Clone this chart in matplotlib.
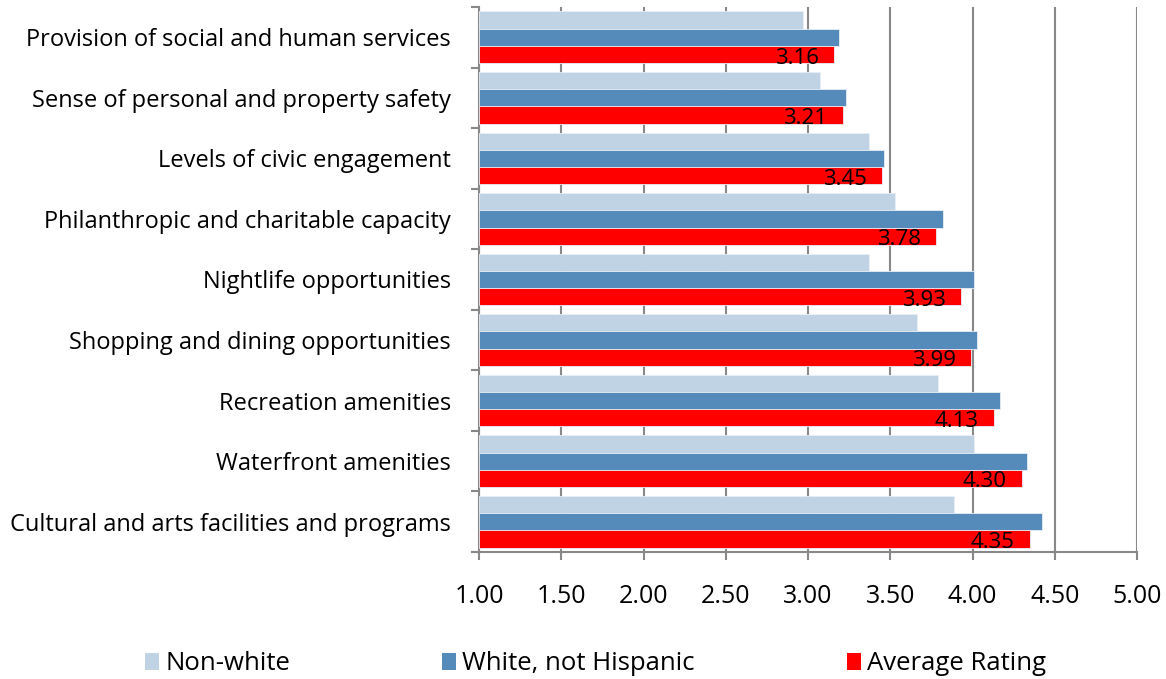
import matplotlib
matplotlib.use("Agg")
import matplotlib.pyplot as plt
import numpy as np
from matplotlib.patches import Patch

plt.rcParams['font.family'] = ['Open Sans', 'DejaVu Sans']

categories = [
    "Provision of social and human services",
    "Sense of personal and property safety",
    "Levels of civic engagement",
    "Philanthropic and charitable capacity",
    "Nightlife opportunities",
    "Shopping and dining opportunities",
    "Recreation amenities",
    "Waterfront amenities",
    "Cultural and arts facilities and programs",
]
non_white = [2.97, 3.07, 3.37, 3.53, 3.37, 3.66, 3.79, 4.01, 3.89]
white_not_hispanic = [3.19, 3.23, 3.46, 3.82, 4.01, 4.03, 4.17, 4.33, 4.42]
average_rating = [3.16, 3.21, 3.45, 3.78, 3.93, 3.99, 4.13, 4.30, 4.35]
series_names = ["Non-white", "White, not Hispanic", "Average Rating"]
colors = ["#C0D3E4", "#558BBA", "#FF0000"]
xticks = [1.0, 1.5, 2.0, 2.5, 3.0, 3.5, 4.0, 4.5, 5.0]

fig = plt.figure(figsize=(11.66, 6.79), dpi=100)
ax = fig.add_axes([479 / 1166, 1 - 552 / 679, (1137 - 479) / 1166, (552 - 7) / 679])

n = len(categories)
centers = np.arange(n)  # 0 at top after inversion
h = 0.285
series = [non_white, white_not_hispanic, average_rating]
offsets = [-h, 0, h]
for vals, off, col in zip(series, offsets, colors):
    widths = [v - 1.0 for v in vals]
    ax.barh(centers + off, widths, left=1.0, height=h, color=col,
            edgecolor="#E8EEF5", linewidth=0.6, zorder=3)

for c, v in zip(centers, average_rating):
    ax.annotate(f"{v:.2f}", xy=(v, c + h), xytext=(-11, -2.5),
                textcoords="offset points", ha="right", va="center",
                fontsize=16, color="black", zorder=4)

ax.set_xlim(1.0, 5.0)
ax.set_ylim(n - 0.5, -0.5)
ax.set_xticks(xticks)
ax.set_xticklabels([f"{t:.2f}" for t in xticks], fontsize=18)
ax.set_yticks(centers)
ax.set_yticklabels(categories, fontsize=17)
ax.set_yticks(np.arange(n + 1) - 0.5, minor=True)
ax.tick_params(axis="y", which="major", length=0, pad=20)
ax.tick_params(axis="y", which="minor", length=6, width=1.5, color="#888888", direction="out")
ax.tick_params(axis="x", which="major", length=6, width=1.5, color="#888888", direction="out", pad=17)

ax.grid(axis="x", color="#888888", linewidth=1.5, zorder=0)
ax.set_axisbelow(True)
for side in ["top", "right"]:
    ax.spines[side].set_visible(False)
for side in ["left", "bottom"]:
    ax.spines[side].set_color("#888888")
    ax.spines[side].set_linewidth(1.5)

handles = [Patch(facecolor=c, edgecolor="none") for c in colors]
fig.legend(handles, series_names, loc="center", bbox_to_anchor=(595.5 / 1166, 1 - 664 / 679),
           ncol=3, frameon=False, fontsize=18.5, handlelength=0.55, handleheight=0.6,
           handletextpad=0.25, columnspacing=5.9, borderpad=0, borderaxespad=0)

fig.savefig("out.png", dpi=100)
